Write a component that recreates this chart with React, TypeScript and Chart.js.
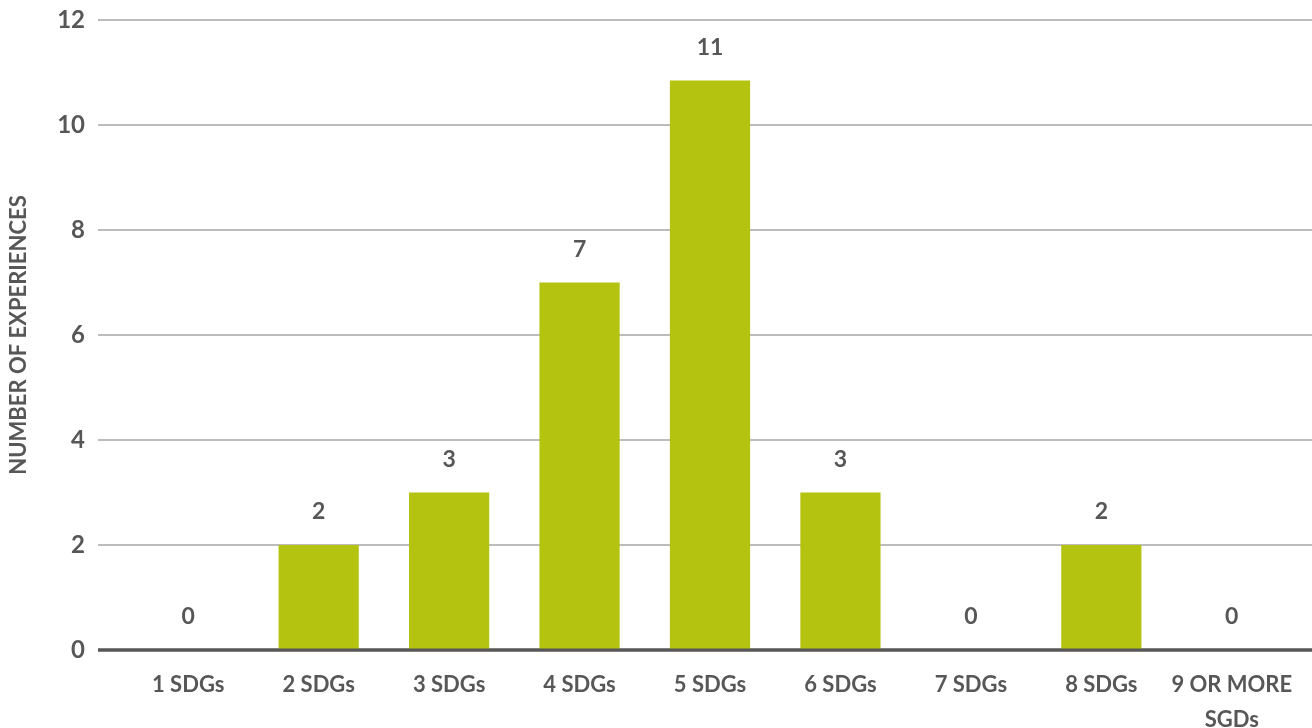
import React, { useEffect, useRef } from "react";
import { Chart, registerables } from "chart.js";

Chart.register(...registerables);

const categories: (string | string[])[] = [
  "1 SDGs",
  "2 SDGs",
  "3 SDGs",
  "4 SDGs",
  "5 SDGs",
  "6 SDGs",
  "7 SDGs",
  "8 SDGs",
  ["9 OR MORE", "SGDs"],
];
const experiences: number[] = [0, 2, 3, 7, 10.85, 3, 0, 2, 0];
const yTicks: number[] = [0, 2, 4, 6, 8, 10, 12];
const yTitle = "NUMBER OF EXPERIENCES";

const TEXT = "#575757";
const BAR = "#b4c310";
const GRID = "#bcbcbc";
const FONT = "Lato, 'Open Sans', sans-serif";

const gridPlugin = {
  id: "customGrid",
  beforeDatasetsDraw(chart: any) {
    const { ctx, chartArea, scales } = chart;
    const y = scales.y;
    ctx.save();
    for (const v of yTicks) {
      const py = y.getPixelForValue(v);
      ctx.beginPath();
      ctx.strokeStyle = v === 0 ? TEXT : GRID;
      ctx.lineWidth = v === 0 ? 3 : 2;
      ctx.moveTo(chartArea.left - 25, py);
      ctx.lineTo(chart.width, py);
      ctx.stroke();
    }
    ctx.restore();
  },
  afterDatasetsDraw(chart: any) {
    const { ctx, scales } = chart;
    const y = scales.y;
    ctx.save();
    const py0 = y.getPixelForValue(0);
    ctx.beginPath();
    ctx.strokeStyle = TEXT;
    ctx.lineWidth = 3;
    ctx.moveTo(chart.chartArea.left - 25, py0);
    ctx.lineTo(chart.width, py0);
    ctx.stroke();
    const meta = chart.getDatasetMeta(0);
    ctx.fillStyle = TEXT;
    ctx.font = `bold 23px ${FONT}`;
    ctx.textAlign = "center";
    ctx.textBaseline = "middle";
    meta.data.forEach((el: any, i: number) => {
      const v = chart.data.datasets[0].data[i] as number;
      ctx.fillText(String(Math.round(v)), el.x, el.y - 33);
    });
    ctx.restore();
  },
};

export default function App() {
  const ref = useRef<HTMLCanvasElement | null>(null);
  useEffect(() => {
    document.body.style.margin = "0";
    if (!ref.current) return;
    const chart = new Chart(ref.current, {
      type: "bar",
      data: {
        labels: categories,
        datasets: [
          {
            data: experiences,
            backgroundColor: BAR,
            barPercentage: 0.615,
            categoryPercentage: 1,
          },
        ],
      },
      options: {
        responsive: false,
        animation: false,
        layout: { padding: { left: 0, right: 15, top: 20, bottom: 0 } },
        plugins: {
          legend: { display: false },
          tooltip: { enabled: false },
        },
        scales: {
          x: {
            grid: { display: false },
            border: { display: false },
            ticks: {
              color: TEXT,
              font: { family: FONT, size: 22, weight: "bold", lineHeight: 1.6 },
              padding: 9,
              maxRotation: 0,
              autoSkip: false,
            },
            afterFit: (s: any) => {
              s.height = 78;
            },
          },
          y: {
            min: 0,
            max: 12,
            grid: {
              display: true,
              drawOnChartArea: false,
              drawTicks: true,
              tickLength: 36,
              color: "rgba(0,0,0,0)",
            },
            border: { display: false },
            afterBuildTicks: (s: any) => {
              s.ticks = yTicks.map((v) => ({ value: v }));
            },
            ticks: {
              color: TEXT,
              font: { family: FONT, size: 24, weight: "bold" },
              padding: 2,
            },
            title: {
              display: true,
              text: yTitle,
              color: TEXT,
              font: { family: FONT, size: 22, weight: "bold" },
              padding: { top: 6, bottom: 0 },
            },
            afterFit: (s: any) => {
              s.width = 123;
            },
          },
        },
      },
      plugins: [gridPlugin],
    });
    return () => chart.destroy();
  }, []);
  return <canvas ref={ref} width={1312} height={728} style={{ display: "block" }} />;
}
